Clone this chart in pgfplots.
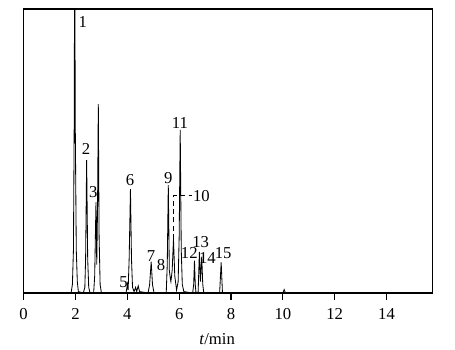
\documentclass[border=0pt]{standalone}
\usepackage{fontspec}
\setmainfont{Liberation Serif}
\usepackage{pgfplots}
\pgfplotsset{compat=1.18}
\begin{document}
\fontsize{10pt}{12pt}\selectfont
\begin{tikzpicture}
\path[use as bounding box] (-14.2pt,-33.6pt) rectangle (258.8pt,175.8pt);
\begin{axis}[
  scale only axis,
  width=245.4pt, height=170.4pt,
  xmin=0, xmax=15.78, ymin=0, ymax=1,
  axis line style={line width=0.9pt},
  xtick={0,2,...,14},
  ytick=\empty,
  tick align=outside,
  xtick pos=bottom,
  major tick length=4.2pt,
  tick style={line width=0.7pt, black},
  /pgf/number format/assume math mode=true,
  xticklabel style={font=\fontsize{10pt}{12pt}\selectfont, anchor=base, yshift=-11.4pt},
  xlabel={\textit{t}/min},
  xlabel style={font=\fontsize{10pt}{12pt}\selectfont, at={(rel axis cs:0.473,0)}, anchor=base, yshift=-30.6pt},
  clip=true,
]
\addplot[black, line width=0.5pt] coordinates {
(1.50,0) (1.83,0) (1.88,0.03) (1.92,0.15) (1.95,0.6) (1.97,1.3) (1.99,0.6) (2.03,0.15) (2.07,0.04) (2.11,0.005)
(2.30,0) (2.36,0.02) (2.39,0.12) (2.43,0.468) (2.47,0.12) (2.51,0.02) (2.56,0)
(2.70,0) (2.74,0.06) (2.79,0.32) (2.82,0.10) (2.85,0.30) (2.88,0.665) (2.91,0.20) (2.95,0.03) (3.00,0)
(3.95,0) (4.00,0.03) (4.03,0.01) (4.07,0.12) (4.12,0.366) (4.16,0.12) (4.20,0.02) (4.26,0.005)
(4.32,0.02) (4.36,0.005) (4.42,0.025) (4.47,0.005)
(4.80,0) (4.86,0.03) (4.92,0.11) (4.97,0.03) (5.03,0)
(5.50,0) (5.54,0.1) (5.58,0.38) (5.62,0.08) (5.66,0.05) (5.68,0.04) (5.73,0.08) (5.78,0.19) (5.83,0.06) (5.90,0.01)
(5.96,0.04) (6.00,0.2) (6.04,0.574) (6.08,0.15) (6.12,0.03) (6.18,0.005)
(6.52,0) (6.56,0.03) (6.59,0.114) (6.62,0.03) (6.65,0)
(6.73,0) (6.78,0.145) (6.82,0.04) (6.87,0.128) (6.91,0.03) (6.95,0)
(7.56,0) (7.62,0.108) (7.67,0)
(10.00,0) (10.05,0.012) (10.10,0) (10.50,0)
};
\draw[densely dashed, line width=0.5pt] (axis cs:5.78,0.19) -- (axis cs:5.78,0.342) -- (axis cs:6.49,0.342);
\node at (axis cs:2.28,0.955) {1};
\node at (axis cs:2.41,0.506) {2};
\node at (axis cs:2.69,0.357) {3};
\node at (axis cs:3.85,0.04) {5};
\node at (axis cs:4.10,0.398) {6};
\node at (axis cs:4.91,0.13) {7};
\node at (axis cs:5.30,0.099) {8};
\node at (axis cs:5.58,0.404) {9};
\node at (axis cs:6.86,0.342) {10};
\node at (axis cs:6.03,0.597) {11};
\node at (axis cs:6.39,0.14) {12};
\node at (axis cs:6.83,0.18) {13};
\node[inner sep=0.5pt] at (axis cs:7.09,0.122) {14};
\node[inner sep=0.5pt] at (axis cs:7.70,0.142) {15};
\end{axis}
\end{tikzpicture}
\end{document}
